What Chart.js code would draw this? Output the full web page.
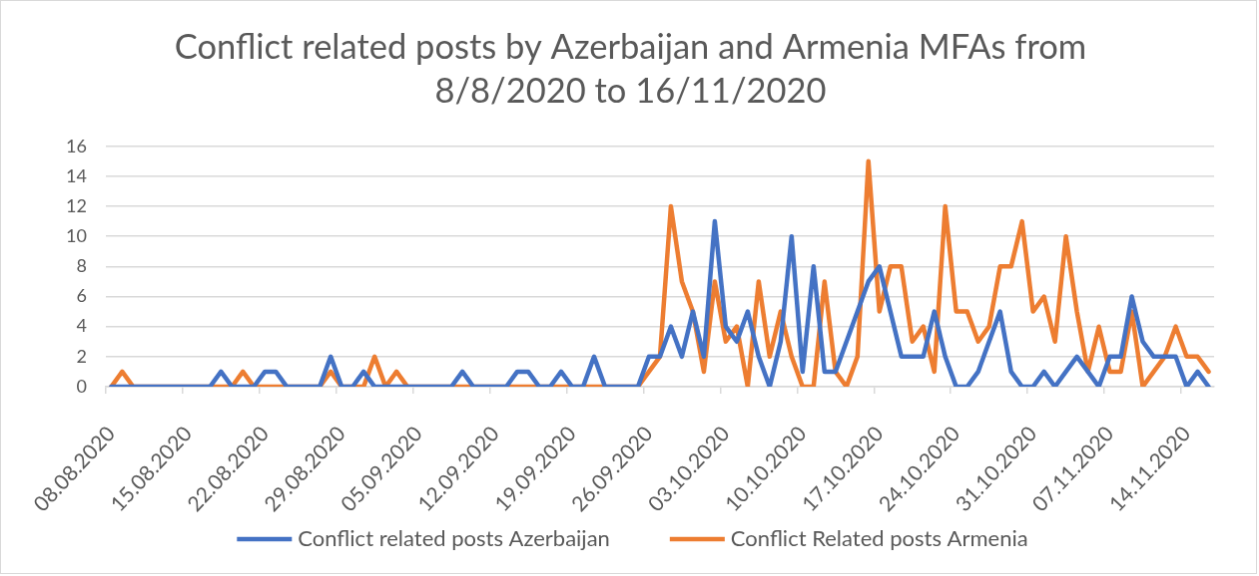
<!DOCTYPE html>
<html>
<head>
<meta charset="utf-8">
<title>Conflict related posts</title>
<script src="https://cdn.jsdelivr.net/npm/chart.js@4.4.1/dist/chart.umd.min.js"></script>
<style>
  body { margin: 0; background: #fff; }
  #chart { display: block; border: 1px solid #d9d9d9; }
</style>
</head>
<body>
<canvas id="chart" width="1257" height="574"></canvas>
<script>
// one category per day, 08.08.2020 .. 16.11.2020
const startDay = Date.UTC(2020, 7, 8);
const dayCount = 101;
const days = [];
for (let i = 0; i < dayCount; i++) {
    const d = new Date(startDay + i * 86400000);
    days.push(String(d.getUTCDate()).padStart(2, '0') + '.' +
        String(d.getUTCMonth() + 1).padStart(2, '0') + '.' + d.getUTCFullYear());
}

// only weekly dates get a label under the axis
const tickLabels = ['08.08.2020', '15.08.2020', '22.08.2020', '29.08.2020', '05.09.2020',
    '12.09.2020', '19.09.2020', '26.09.2020', '03.10.2020', '10.10.2020', '17.10.2020',
    '24.10.2020', '31.10.2020', '07.11.2020', '14.11.2020'];

const azerbaijan = [
    0, 0, 0, 0, 0, 0, 0, 0, 0, 0,
    1, 0, 0, 0, 1, 1, 0, 0, 0, 0,
    2, 0, 0, 1, 0, 0, 0, 0, 0, 0,
    0, 0, 1, 0, 0, 0, 0, 1, 1, 0,
    0, 1, 0, 0, 2, 0, 0, 0, 0, 2,
    2, 4, 2, 5, 2, 11, 4, 3, 5, 2,
    0, 3, 10, 1, 8, 1, 1, 3, 5, 7,
    8, 5, 2, 2, 2, 5, 2, 0, 0, 1,
    3, 5, 1, 0, 0, 1, 0, 1, 2, 1,
    0, 2, 2, 6, 3, 2, 2, 2, 0, 1,
    0
];

const armenia = [
    0, 1, 0, 0, 0, 0, 0, 0, 0, 0,
    0, 0, 1, 0, 0, 0, 0, 0, 0, 0,
    1, 0, 0, 0, 2, 0, 1, 0, 0, 0,
    0, 0, 0, 0, 0, 0, 0, 0, 0, 0,
    0, 0, 0, 0, 0, 0, 0, 0, 0, 1,
    2, 12, 7, 5, 1, 7, 3, 4, 0, 7,
    2, 5, 2, 0, 0, 7, 1, 0, 2, 15,
    5, 8, 8, 3, 4, 1, 12, 5, 5, 3,
    4, 8, 8, 11, 5, 6, 3, 10, 5, 1,
    4, 1, 1, 5, 0, 1, 2, 4, 2, 2,
    1
];

const textColor = '#595959';
const gridColor = '#d9d9d9';
const fontFamily = 'Lato, "Open Sans", sans-serif';

// Chart.js uses one padding value both between legend items and above them,
// so the two-line legend under the dates is drawn here
const lineLegend = {
    id: 'lineLegend',
    afterDraw(chart) {
        const ctx = chart.ctx;
        const items = chart.data.datasets;
        const swatch = 55, textGap = 6, itemGap = 60;
        const y = chart.height - 34;
        ctx.save();
        ctx.font = '22px ' + fontFamily;
        const widths = items.map(ds => swatch + textGap + ctx.measureText(ds.label).width);
        const total = widths.reduce((a, b) => a + b, 0) + itemGap * (items.length - 1);
        let x = (chart.width - total) / 2 + 4;
        ctx.textBaseline = 'middle';
        ctx.fillStyle = textColor;
        ctx.lineWidth = 4.5;
        items.forEach((ds, i) => {
            ctx.strokeStyle = ds.borderColor;
            ctx.beginPath();
            ctx.moveTo(x, y);
            ctx.lineTo(x + swatch, y);
            ctx.stroke();
            ctx.fillText(ds.label, x + swatch + textGap, y);
            x += widths[i] + itemGap;
        });
        ctx.restore();
    }
};

new Chart(document.getElementById('chart'), {
    type: 'line',
    data: {
        labels: days,
        datasets: [
            { label: 'Conflict related posts Azerbaijan', data: azerbaijan, borderColor: '#4472c4', backgroundColor: '#4472c4' },
            { label: 'Conflict Related posts Armenia', data: armenia, borderColor: '#ed7d31', backgroundColor: '#ed7d31' }
        ]
    },
    plugins: [lineLegend],
    options: {
        responsive: false,
        animation: false,
        datasets: {
            line: { borderWidth: 4.5, pointRadius: 0, tension: 0, borderJoinStyle: 'round', borderCapStyle: 'round' }
        },
        layout: { padding: { left: 46, right: 42, top: 0, bottom: 50 } },
        plugins: {
            title: {
                display: true,
                text: ['Conflict related posts by Azerbaijan and Armenia MFAs from', '8/8/2020 to 16/11/2020'],
                color: textColor,
                font: { family: fontFamily, size: 34.5, weight: 'normal', lineHeight: 1.3 },
                padding: { top: 24, bottom: 32 }
            },
            legend: { display: false },
            tooltip: { enabled: false }
        },
        scales: {
            x: {
                offset: true,
                afterFit: axis => { axis.height = 137; },
                grid: {
                    offset: true,
                    drawOnChartArea: false,
                    tickLength: 7,
                    lineWidth: 1.5,
                    color: ctx => ctx.index % 7 === 0 ? gridColor : 'rgba(0,0,0,0)'
                },
                border: { color: gridColor, width: 1.5 },
                ticks: {
                    autoSkip: false,
                    minRotation: 47,
                    maxRotation: 47,
                    padding: 28,
                    color: textColor,
                    font: { family: fontFamily, size: 21 },
                    callback: function(value) {
                        const label = this.getLabelForValue(value);
                        return tickLabels.includes(label) ? label : '';
                    }
                }
            },
            y: {
                min: 0,
                max: 16,
                ticks: { stepSize: 2, padding: 19, color: textColor, font: { family: fontFamily, size: 18 } },
                grid: { color: gridColor, lineWidth: 1.5, drawTicks: false },
                border: { display: false }
            }
        }
    }
});
</script>
</body>
</html>
